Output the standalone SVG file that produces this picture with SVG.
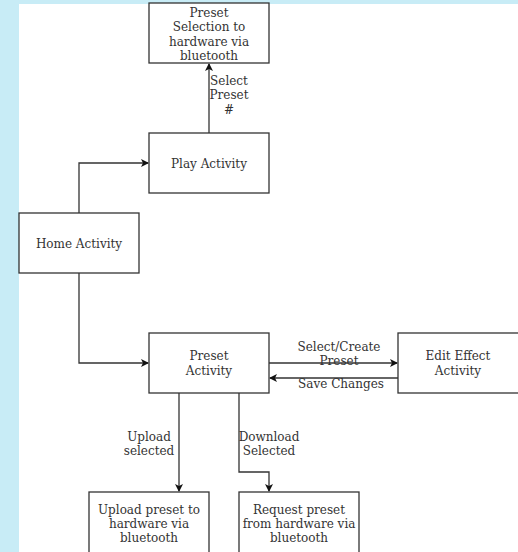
<svg xmlns="http://www.w3.org/2000/svg" width="518" height="552" viewBox="0 0 518 552">
<defs>
<marker id="ah" markerWidth="8" markerHeight="8" refX="7" refY="4" orient="auto" markerUnits="userSpaceOnUse">
<path d="M0,0 L8,4 L0,8 L2,4 Z" fill="#111"/>
</marker>
</defs>
<style>
.box{fill:#fff;stroke:#333;stroke-width:1.3}
.t{font-family:"DejaVu Serif",serif;font-size:12px;fill:#333;text-anchor:middle}
.c{fill:none;stroke:#333;stroke-width:1.3;marker-end:url(#ah)}
</style>
<rect x="0" y="0" width="518" height="552" fill="#c8ecf6"/>
<rect x="19" y="4" width="499" height="548" fill="#fff"/>
<g id="connectors">
<path class="c" d="M79,213 V163 H148"/>
<path class="c" d="M209,133 V64"/>
<path class="c" d="M79,273 V363 H148"/>
<path class="c" d="M269,363 H397"/>
<path class="c" d="M398,378 H270"/>
<path class="c" d="M179,393 V491"/>
<path class="c" d="M239,393 V472 H269 V491"/>
<text class="t" x="229" y="85">Select</text>
<text class="t" x="229" y="99">Preset</text>
<text class="t" x="229" y="114">#</text>
<text class="t" x="339" y="351">Select/Create</text>
<text class="t" x="339" y="365">Preset</text>
<text class="t" x="341" y="388">Save Changes</text>
<text class="t" x="149" y="441">Upload</text>
<text class="t" x="149" y="455">selected</text>
<text class="t" x="269" y="441">Download</text>
<text class="t" x="269" y="455">Selected</text>
</g>
<g id="n-preset-sel">
<rect class="box" x="149" y="3" width="120" height="60"/>
<text class="t" x="209" y="17">Preset</text>
<text class="t" x="209" y="31">Selection to</text>
<text class="t" x="209" y="46">hardware via</text>
<text class="t" x="209" y="60">bluetooth</text>
</g>
<g id="n-play">
<rect class="box" x="149" y="133" width="120" height="60"/>
<text class="t" x="209" y="168">Play Activity</text>
</g>
<g id="n-home">
<rect class="box" x="19" y="213" width="120" height="60"/>
<text class="t" x="79" y="248">Home Activity</text>
</g>
<g id="n-preset">
<rect class="box" x="149" y="333" width="120" height="60"/>
<text class="t" x="209" y="360">Preset</text>
<text class="t" x="209" y="375">Activity</text>
</g>
<g id="n-edit">
<rect class="box" x="398" y="333" width="130" height="60"/>
<text class="t" x="458" y="360">Edit Effect</text>
<text class="t" x="458" y="375">Activity</text>
</g>
<g id="n-upload">
<rect class="box" x="89" y="492" width="120" height="70"/>
<text class="t" x="149" y="514">Upload preset to</text>
<text class="t" x="149" y="528">hardware via</text>
<text class="t" x="149" y="542">bluetooth</text>
</g>
<g id="n-request">
<rect class="box" x="239" y="492" width="120" height="70"/>
<text class="t" x="299" y="514">Request preset</text>
<text class="t" x="299" y="528">from hardware via</text>
<text class="t" x="299" y="542">bluetooth</text>
</g>
</svg>
